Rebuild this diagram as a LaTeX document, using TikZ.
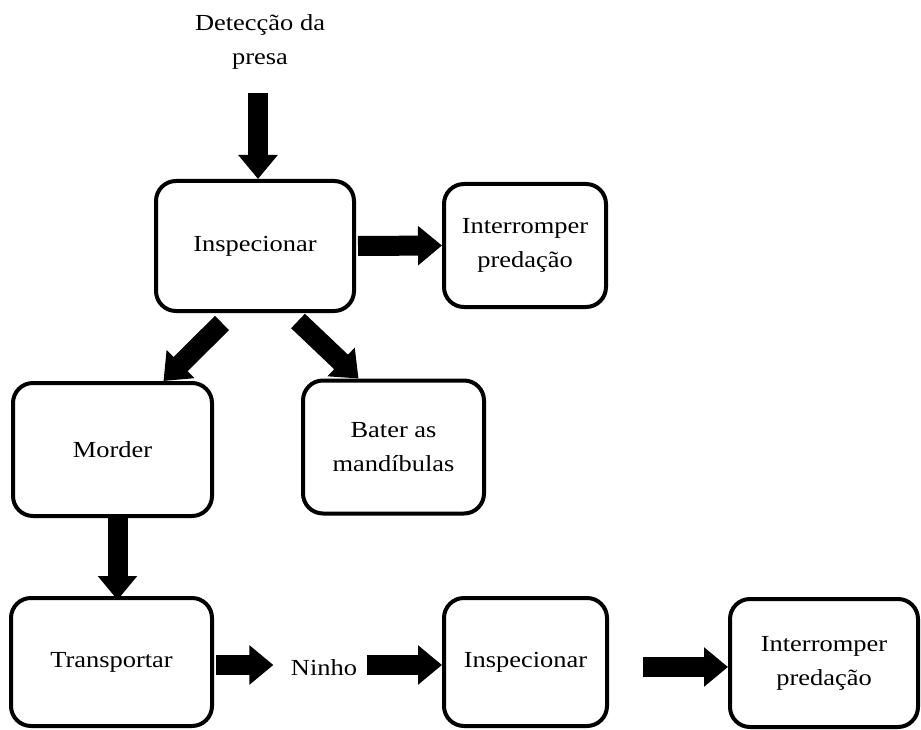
\documentclass[tikz,border=0pt]{standalone}
\usepackage{fontspec}
\setmainfont{Liberation Serif}[FakeStretch=1.15]
\usetikzlibrary{arrows.meta,calc}

\begin{document}
\begin{tikzpicture}[x=1pt,y=-1pt,
  caixa/.style={draw,line width=4pt,rounded corners=20pt,align=center,
    font=\fontsize{23}{34}\selectfont},
  rotulo/.style={align=center,font=\fontsize{23}{34}\selectfont},
  seta/.style={line width=20pt,-{Triangle[width=38pt,length=24pt]}}]

\useasboundingbox (0,0) rectangle (921,730);

% first row
\node[rotulo] (detec) at (260,42) {Detecção da\\presa};
\node[caixa,minimum width=198pt,minimum height=130pt] (insA) at (255,246) {Inspecionar};
\node[caixa,minimum width=162pt,minimum height=123pt] (intA) at (525,245.5) {Interromper\\predação};

% second row
\node[caixa,minimum width=199pt,minimum height=133pt] (mor) at (112.5,449.5) {Morder};
\node[caixa,minimum width=181pt,minimum height=133pt] (bat) at (393.5,447) {Bater as\\mandíbulas};

% last row
\node[caixa,minimum width=201pt,minimum height=128pt] (tra) at (111.5,662) {Transportar};
\node[rotulo] (ninho) at (324,668) {Ninho};
\node[caixa,minimum width=163pt,minimum height=128pt] (insB) at (525.5,662) {Inspecionar};
\node[caixa,minimum width=188pt,minimum height=128pt] (intB) at (824,663) {Interromper\\predação};

% arrows
\draw[seta,shorten <=20pt] ($(detec.south)+(-2,0)$) -- ($(insA.north)+(3,0)$);
\draw[seta,shorten <=2pt] (insA.east) -- (intA.west);
\draw[seta] ($(insA.south)+(-33,10)$) -- ($(mor.north)+(51,0)$);
\draw[seta] ($(insA.south)+(43,8)$) -- ($(bat.north)+(-35,0)$);
\draw[seta] ($(mor.south)+(5,0)$) -- ($(mor.south -| tra.north)+(6,82)$);
\draw[seta,shorten <=2pt,shorten >=14pt] ($(tra.east)+(0,3)$) -- ($(ninho.west |- tra.east)+(0,3)$);
\draw[seta,shorten <=6pt] ($(ninho.east |- tra.east)+(0,3)$) -- ($(insB.west)+(0,3)$);
\draw[seta,shorten <=34pt] ($(insB.east)+(0,5)$) -- ($(intB.west |- insB.east)+(0,5)$);

\end{tikzpicture}
\end{document}
